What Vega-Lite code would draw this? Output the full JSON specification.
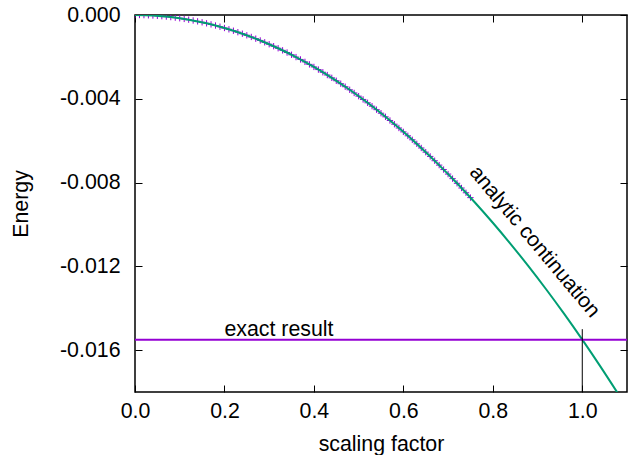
{
  "$schema": "https://vega.github.io/schema/vega-lite/v6.json",
  "width": 492,
  "height": 377,
  "autosize": "none",
  "padding": {"left": 135, "top": 15, "right": 1, "bottom": 63},
  "config": {
    "view": {"stroke": "black", "strokeWidth": 1.5},
    "font": "Liberation Sans",
    "axis": {"grid": false, "domain": false, "tickColor": "black", "tickSize": -7, "tickWidth": 1, "labelFont": "Liberation Sans", "labelFontSize": 21.33, "labelColor": "black", "titleFont": "Liberation Sans", "titleFontSize": 21.33, "titleFontWeight": "normal", "titleColor": "black"}
  },
  "datasets": {
    "curve": [
      {"s": 0, "E": 0}, {"s": 0.04, "E": -0.0000248}, {"s": 0.08, "E": -0.0000992}, {"s": 0.12, "E": -0.0002232},
      {"s": 0.16, "E": -0.0003968}, {"s": 0.2, "E": -0.00062}, {"s": 0.24, "E": -0.0008928}, {"s": 0.28, "E": -0.0012152},
      {"s": 0.32, "E": -0.0015872}, {"s": 0.36, "E": -0.0020088}, {"s": 0.4, "E": -0.00248}, {"s": 0.44, "E": -0.0030008},
      {"s": 0.48, "E": -0.0035712}, {"s": 0.52, "E": -0.0041912}, {"s": 0.56, "E": -0.0048608}, {"s": 0.6, "E": -0.00558},
      {"s": 0.64, "E": -0.0063488}, {"s": 0.68, "E": -0.0071672}, {"s": 0.72, "E": -0.0080352}, {"s": 0.76, "E": -0.0089528},
      {"s": 0.8, "E": -0.00992}, {"s": 0.84, "E": -0.0109368}, {"s": 0.88, "E": -0.0120032}, {"s": 0.92, "E": -0.0131192},
      {"s": 0.96, "E": -0.0142848}, {"s": 1.0, "E": -0.0155}, {"s": 1.04, "E": -0.0167648}, {"s": 1.08, "E": -0.0180792}
    ],
    "crosses": [
      {"s": 0.00, "E": 0}, {"s": 0.01, "E": -0.0000016}, {"s": 0.02, "E": -0.0000062}, {"s": 0.03, "E": -0.000014},
      {"s": 0.04, "E": -0.0000248}, {"s": 0.05, "E": -0.0000388}, {"s": 0.06, "E": -0.0000558}, {"s": 0.07, "E": -0.000076},
      {"s": 0.08, "E": -0.0000992}, {"s": 0.09, "E": -0.0001256}, {"s": 0.10, "E": -0.000155}, {"s": 0.11, "E": -0.0001876},
      {"s": 0.12, "E": -0.0002232}, {"s": 0.13, "E": -0.000262}, {"s": 0.14, "E": -0.0003038}, {"s": 0.15, "E": -0.0003488},
      {"s": 0.16, "E": -0.0003968}, {"s": 0.17, "E": -0.000448}, {"s": 0.18, "E": -0.0005022}, {"s": 0.19, "E": -0.0005596},
      {"s": 0.20, "E": -0.00062}, {"s": 0.21, "E": -0.0006836}, {"s": 0.22, "E": -0.0007502}, {"s": 0.23, "E": -0.00082},
      {"s": 0.24, "E": -0.0008928}, {"s": 0.25, "E": -0.0009688}, {"s": 0.26, "E": -0.0010478}, {"s": 0.27, "E": -0.00113},
      {"s": 0.28, "E": -0.0012152}, {"s": 0.29, "E": -0.0013036}, {"s": 0.30, "E": -0.001395}, {"s": 0.31, "E": -0.0014896},
      {"s": 0.32, "E": -0.0015872}, {"s": 0.33, "E": -0.001688}, {"s": 0.34, "E": -0.0017918}, {"s": 0.35, "E": -0.0018988},
      {"s": 0.36, "E": -0.0020088}, {"s": 0.37, "E": -0.002122}, {"s": 0.38, "E": -0.0022382}, {"s": 0.39, "E": -0.0023576},
      {"s": 0.40, "E": -0.00248}, {"s": 0.41, "E": -0.0026056}, {"s": 0.42, "E": -0.0027342}, {"s": 0.43, "E": -0.002866},
      {"s": 0.44, "E": -0.0030008}, {"s": 0.45, "E": -0.0031388}, {"s": 0.46, "E": -0.0032798}, {"s": 0.47, "E": -0.003424},
      {"s": 0.48, "E": -0.0035712}, {"s": 0.49, "E": -0.0037216}, {"s": 0.50, "E": -0.003875}, {"s": 0.51, "E": -0.0040316},
      {"s": 0.52, "E": -0.0041912}, {"s": 0.53, "E": -0.004354}, {"s": 0.54, "E": -0.0045198}, {"s": 0.55, "E": -0.0046888},
      {"s": 0.56, "E": -0.0048608}, {"s": 0.57, "E": -0.005036}, {"s": 0.58, "E": -0.0052142}, {"s": 0.59, "E": -0.0053956},
      {"s": 0.60, "E": -0.00558}, {"s": 0.61, "E": -0.0057676}, {"s": 0.62, "E": -0.0059582}, {"s": 0.63, "E": -0.006152},
      {"s": 0.64, "E": -0.0063488}, {"s": 0.65, "E": -0.0065488}, {"s": 0.66, "E": -0.0067518}, {"s": 0.67, "E": -0.006958},
      {"s": 0.68, "E": -0.0071672}, {"s": 0.69, "E": -0.0073796}, {"s": 0.70, "E": -0.007595}, {"s": 0.71, "E": -0.0078136},
      {"s": 0.72, "E": -0.0080352}, {"s": 0.73, "E": -0.00826}, {"s": 0.74, "E": -0.0084878}, {"s": 0.75, "E": -0.0087188}
    ],
    "exact": [{"E": -0.0155, "label": "exact result", "s": 0.2}],
    "marker": [{"s": 1.0, "E0": -0.018, "E1": -0.015}],
    "annot": [{"s": 0.893, "E": -0.01083, "label": "analytic continuation"}]
  },
  "resolve": {"axis": {"x": "independent", "y": "independent"}},
  "layer": [
    {
      "data": {"name": "crosses"},
      "mark": {"type": "point", "shape": "M-1,0L1,0M0,-1L0,1", "size": 40, "filled": false, "stroke": "#9400d3", "strokeWidth": 1, "opacity": 1, "clip": true},
      "encoding": {
        "x": {"field": "s", "type": "quantitative", "scale": {"domain": [0, 1.1], "nice": false, "zero": false},
          "axis": {"orient": "bottom", "title": "scaling factor", "values": [0, 0.2, 0.4, 0.6, 0.8, 1.0], "format": ".1f", "labelPadding": 15, "titlePadding": 12, "labelFlush": false}},
        "y": {"field": "E", "type": "quantitative", "scale": {"domain": [-0.018, 0], "nice": false, "zero": false},
          "axis": {"orient": "left", "title": "Energy", "values": [-0.016, -0.012, -0.008, -0.004, 0], "format": ".3f", "labelExpr": "replace(datum.label, '\u2212', '-')", "labelPadding": 22, "titlePadding": 28, "labelFlush": false}}
      }
    },
    {
      "data": {"name": "curve"},
      "mark": {"type": "line", "color": "#009e73", "strokeWidth": 2, "interpolate": "monotone", "clip": true},
      "encoding": {
        "x": {"field": "s", "type": "quantitative", "axis": {"orient": "top", "title": null, "labels": false, "values": [0, 0.2, 0.4, 0.6, 0.8, 1.0]}},
        "y": {"field": "E", "type": "quantitative", "axis": {"orient": "right", "title": null, "labels": false, "values": [-0.016, -0.012, -0.008, -0.004, 0]}}
      }
    },
    {
      "data": {"name": "exact"},
      "mark": {"type": "rule", "color": "#9400d3", "strokeWidth": 2},
      "encoding": {"y": {"field": "E", "type": "quantitative", "axis": null}}
    },
    {
      "data": {"name": "exact"},
      "mark": {"type": "text", "align": "left", "baseline": "alphabetic", "dy": -4, "fontSize": 21.33, "font": "Liberation Sans", "color": "black"},
      "encoding": {"x": {"field": "s", "type": "quantitative", "axis": null}, "y": {"field": "E", "type": "quantitative", "axis": null}, "text": {"field": "label"}}
    },
    {
      "data": {"name": "marker"},
      "mark": {"type": "rule", "color": "black", "strokeWidth": 1},
      "encoding": {"x": {"field": "s", "type": "quantitative", "axis": null}, "y": {"field": "E0", "type": "quantitative", "axis": null}, "y2": {"field": "E1"}}
    },
    {
      "data": {"name": "annot"},
      "mark": {"type": "text", "align": "center", "baseline": "middle", "angle": 50, "fontSize": 21, "font": "Liberation Sans", "color": "black"},
      "encoding": {"x": {"field": "s", "type": "quantitative", "axis": null}, "y": {"field": "E", "type": "quantitative", "axis": null}, "text": {"field": "label"}}
    }
  ]
}
